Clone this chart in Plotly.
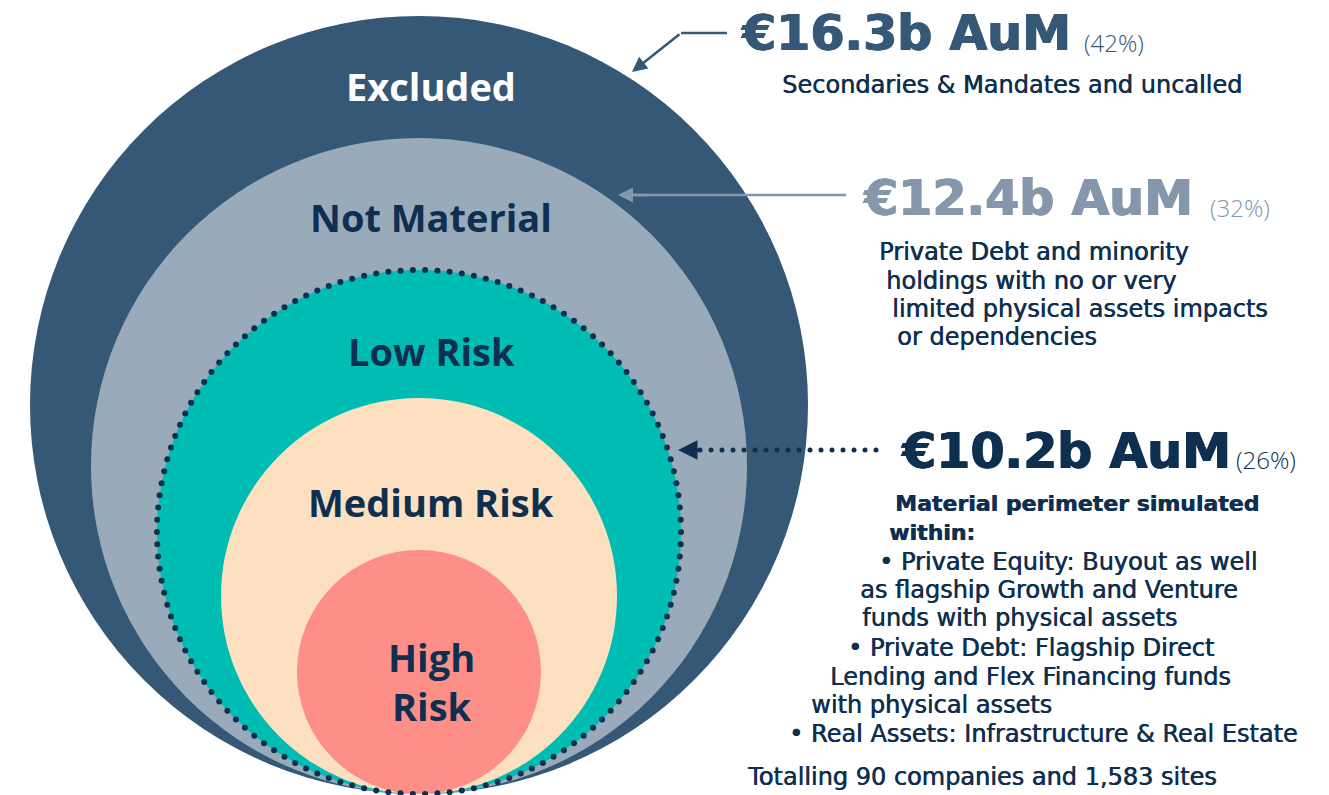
import numpy as np
import plotly.graph_objects as go

# ---------------- data ----------------
tiers = ["Excluded", "Not Material", "Low Risk", "Medium Risk", "High<br>Risk"]
aum_values = ["€16.3b AuM", "€12.4b AuM", "€10.2b AuM"]
aum_shares = ["(42%)", "(32%)", "(26%)"]
desc_excluded = ["Secondaries & Mandates and uncalled"]
desc_not_material = [
    "Private Debt and minority",
    "holdings with no or very",
    "limited physical assets impacts",
    "or dependencies",
]
desc_material = [
    "Material perimeter simulated",
    "within:",
    "• Private Equity: Buyout as well",
    "as flagship Growth and Venture",
    "funds with physical assets",
    "• Private Debt: Flagship Direct",
    "Lending and Flex Financing funds",
    "with physical assets",
    "• Real Assets: Infrastructure & Real Estate",
]
total_note = ["Totalling 90 companies and 1,583 sites"]

# ---------------- layout / geometry ----------------
W, H = 1329, 795
CX, BOTTOM = 419, 794
radii = [389, 328, 262, 198, 122]
fills = ["#345875", "#99abba", "#00bdb3", "#fde0c0", "#fd8f88"]
label_colors = ["#ffffff", "#0e2f50", "#0e2f50", "#0e2f50", "#0e2f50"]
label_y = [86, 217, 351, 502, 681]
NAVY = "#0e2f50"
GREY = "#8497ab"
FONT = "Open Sans"
HEAD_FONT = "DejaVu Sans"
BODY_FONT = "DejaVu Sans"

fig = go.Figure()

shapes = []
for r, c in zip(radii, fills):
    shapes.append(dict(type="circle", xref="x", yref="y", layer="below",
                       x0=CX - r, x1=CX + r, y0=BOTTOM - 2 * r, y1=BOTTOM,
                       fillcolor=c, line=dict(width=0)))

# dotted outline around the material perimeter (Low Risk circle)
r_mat = radii[2]
n_dots = int(2 * np.pi * r_mat / 12.2)
t = np.linspace(0, 2 * np.pi, n_dots, endpoint=False)
fig.add_trace(go.Scatter(x=CX + r_mat * np.cos(t), y=(BOTTOM - r_mat) + r_mat * np.sin(t),
                         mode="markers", marker=dict(size=6, color=NAVY),
                         hoverinfo="skip", showlegend=False, cliponaxis=False))

# dotted arrow shaft for material block
xs = np.arange(700, 882, 11.0)
fig.add_trace(go.Scatter(x=xs, y=[450] * len(xs), mode="markers",
                         marker=dict(size=5, color=NAVY), hoverinfo="skip", showlegend=False))

# top bent arrow horizontal part
shapes.append(dict(type="line", xref="x", yref="y", x0=681, x1=727, y0=33, y1=33,
                   line=dict(color="#345875", width=2.5)))
# middle arrow shaft
shapes.append(dict(type="line", xref="x", yref="y", x0=630, x1=846, y0=195, y1=195,
                   line=dict(color=GREY, width=2.5)))

ann = []
# tier labels
for name, col, y in zip(tiers, label_colors, label_y):
    ann.append(dict(x=431, y=y, xref="x", yref="y", text=f"<b>{name}</b>", showarrow=False,
                    font=dict(family=FONT, size=38, color=col), xanchor="center", yanchor="middle",
                    align="center"))

# arrowheads
ann.append(dict(x=632, y=72, ax=681, ay=33, xref="x", yref="y", axref="x", ayref="y", text="",
                showarrow=True, arrowhead=2, arrowsize=1.2, arrowwidth=2.5, arrowcolor="#345875"))
ann.append(dict(x=618, y=195, ax=650, ay=195, xref="x", yref="y", axref="x", ayref="y", text="",
                showarrow=True, arrowhead=2, arrowsize=1.2, arrowwidth=2.5, arrowcolor=GREY))
ann.append(dict(x=678, y=450, ax=700, ay=450, xref="x", yref="y", axref="x", ayref="y", text="",
                showarrow=True, arrowhead=2, arrowsize=1.3, arrowwidth=3, arrowcolor=NAVY))

# headlines
head_pos = [(739, 33, 1082, 42, "#345875"), (861, 198, 1208, 207, GREY), (899, 451, 1234, 459, NAVY)]
for txt, share, (hx, hy, sx, sy, col) in zip(aum_values, aum_shares, head_pos):
    ann.append(dict(x=hx, y=hy, xref="x", yref="y", text=f"<b>{txt}</b>", showarrow=False,
                    font=dict(family=HEAD_FONT, size=49, color=col,
                              shadow=f"1px 0 0 {col}, -0.5px 0 0 {col}"),
                    xanchor="left", yanchor="middle"))
    ann.append(dict(x=sx, y=sy, xref="x", yref="y", text=share, showarrow=False,
                    font=dict(family=FONT, size=24, color=col, weight=300),
                    xanchor="left", yanchor="middle"))

def body(lines, xs_, ys_, bold_first=0):
    for i, (ln, x, y) in enumerate(zip(lines, xs_, ys_)):
        txt = f"<b>{ln}</b>" if i < bold_first else ln
        size = 22 if i < bold_first else 24
        ann.append(dict(x=x, y=y + 1, xref="x", yref="y", text=txt, showarrow=False,
                        font=dict(family=BODY_FONT, size=size, color=NAVY,
                                  shadow=f"0.6px 0 0 {NAVY}"),
                        xanchor="left", yanchor="middle"))

body(desc_excluded, [780], [84])
body(desc_not_material, [877, 884, 890, 895], [251, 280, 308, 336])
body(desc_material, [893, 887, 877, 858, 860, 846, 828, 809, 787],
     [502, 531, 561, 589, 617, 647, 676, 704, 733], bold_first=2)
body(total_note, [745], [776])

fig.update_layout(
    width=W, height=H, margin=dict(l=0, r=0, t=0, b=0),
    paper_bgcolor="white", plot_bgcolor="white",
    xaxis=dict(range=[0, W], visible=False, fixedrange=True),
    yaxis=dict(range=[H, 0], visible=False, fixedrange=True),
    shapes=shapes, annotations=ann, showlegend=False,
)
fig.write_html("out.html", config={"displayModeBar": False},
               post_script="document.body.style.margin='0';document.body.style.overflow='hidden';")
